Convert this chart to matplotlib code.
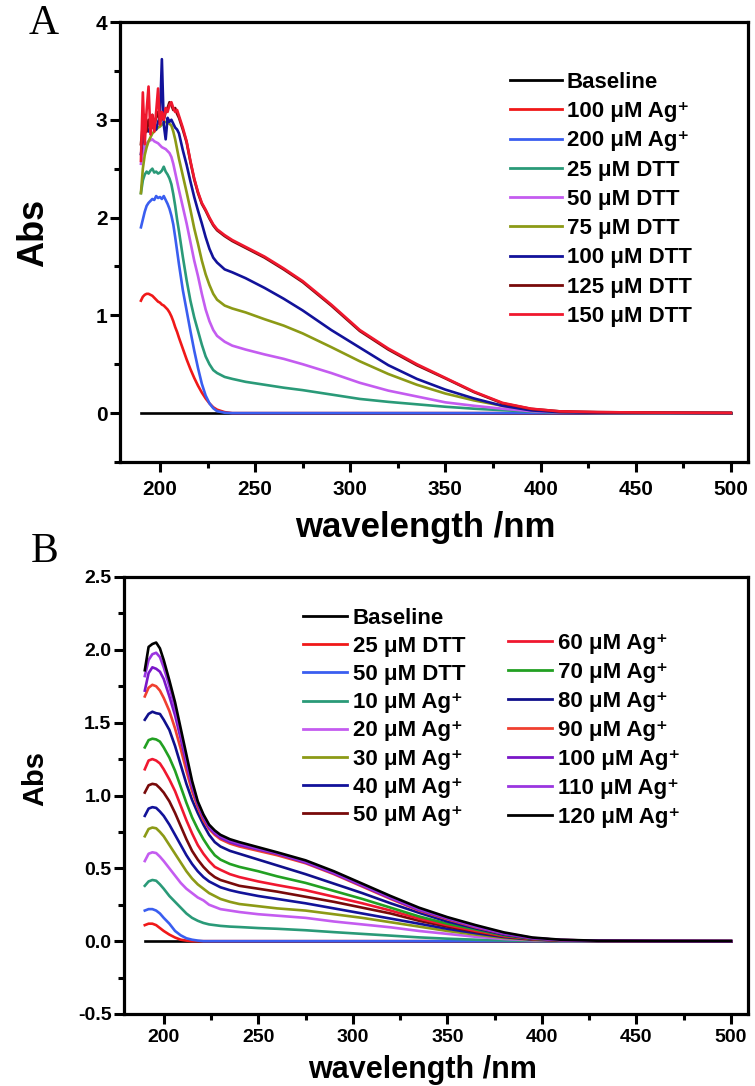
import matplotlib
matplotlib.use("Agg")
import matplotlib.pyplot as plt
from matplotlib.ticker import MultipleLocator

plt.rcParams['font.family'] = ['Liberation Sans', 'DejaVu Sans']
plt.rcParams['font.weight'] = 'bold'

# ---------------- panel A data ----------------
wlA = [190, 191, 192, 193, 194, 195, 196, 197, 198, 199, 200, 201, 202, 203, 204, 205, 206, 207, 208, 209, 210,
       212, 214, 216, 218, 220, 222, 224, 226, 228, 230, 234, 238, 245, 255, 265, 275, 290, 305, 320, 335,
       350, 365, 380, 395, 410, 430, 460, 500]

a_baseline = [0.0] * len(wlA)
a_ag100 = [1.15, 1.19, 1.21, 1.22, 1.22, 1.21, 1.20, 1.18, 1.16, 1.14, 1.13, 1.11, 1.10, 1.08, 1.06, 1.03, 0.99, 0.94, 0.88, 0.83, 0.77,
           0.66, 0.55, 0.45, 0.36, 0.28, 0.21, 0.15, 0.10, 0.06, 0.035, 0.01, 0.0, 0.0, 0.0, 0.0, 0.0, 0.0, 0.0, 0.0, 0.0,
           0.0, 0.0, 0.0, 0.0, 0.0, 0.0, 0.0, 0.0]
a_ag200 = [1.90, 1.98, 2.06, 2.12, 2.15, 2.17, 2.19, 2.18, 2.22, 2.20, 2.21, 2.19, 2.22, 2.18, 2.14, 2.09, 2.02, 1.93, 1.80, 1.66, 1.52,
           1.26, 1.05, 0.84, 0.64, 0.46, 0.30, 0.18, 0.10, 0.05, 0.02, 0.004, 0.0, 0.0, 0.0, 0.0, 0.0, 0.0, 0.0, 0.0, 0.0,
           0.0, 0.0, 0.0, 0.0, 0.0, 0.0, 0.0, 0.0]
a_dtt25 = [2.25, 2.38, 2.44, 2.47, 2.45, 2.48, 2.50, 2.46, 2.47, 2.45, 2.46, 2.48, 2.52, 2.47, 2.44, 2.40, 2.34, 2.24, 2.12, 1.98, 1.86,
           1.60, 1.36, 1.15, 0.98, 0.84, 0.70, 0.58, 0.50, 0.44, 0.41, 0.37, 0.35, 0.32, 0.29, 0.26, 0.235, 0.19, 0.145, 0.115, 0.09,
           0.065, 0.045, 0.03, 0.015, 0.006, 0.002, 0.0, 0.0]
a_dtt50 = [2.55, 2.66, 2.72, 2.76, 2.78, 2.79, 2.80, 2.78, 2.77, 2.76, 2.74, 2.72, 2.71, 2.70, 2.68, 2.66, 2.62, 2.55, 2.46, 2.37, 2.28,
           2.11, 1.94, 1.75, 1.56, 1.40, 1.22, 1.06, 0.94, 0.85, 0.79, 0.73, 0.69, 0.65, 0.60, 0.555, 0.50, 0.41, 0.31, 0.23, 0.17,
           0.11, 0.075, 0.045, 0.02, 0.008, 0.003, 0.0, 0.0]
a_dtt75 = [2.25, 2.50, 2.64, 2.72, 2.78, 2.82, 2.86, 2.88, 2.90, 2.92, 2.93, 2.95, 2.97, 2.98, 2.97, 2.96, 2.94, 2.88, 2.80, 2.70, 2.60,
           2.43, 2.26, 2.08, 1.89, 1.73, 1.56, 1.42, 1.31, 1.22, 1.16, 1.10, 1.07, 1.03, 0.96, 0.895, 0.815, 0.675, 0.53, 0.40, 0.29,
           0.20, 0.13, 0.075, 0.035, 0.012, 0.004, 0.001, 0.0]
a_dtt100 = [2.65, 2.78, 2.86, 2.90, 2.88, 2.94, 2.92, 2.96, 2.90, 2.98, 3.02, 3.62, 2.95, 2.80, 3.02, 2.98, 3.00, 2.96, 2.92, 2.90, 2.86,
            2.69, 2.54, 2.37, 2.21, 2.07, 1.94, 1.80, 1.68, 1.59, 1.54, 1.47, 1.44, 1.38, 1.28, 1.17, 1.05, 0.85, 0.67, 0.49, 0.35,
            0.24, 0.15, 0.075, 0.028, 0.01, 0.004, 0.002, 0.0]
a_dtt125 = [2.75, 2.95, 3.05, 2.88, 3.00, 2.92, 3.05, 2.95, 3.02, 3.08, 2.98, 3.05, 3.00, 3.08, 3.12, 3.18, 3.15, 3.10, 3.12, 3.06, 3.02,
            2.90, 2.77, 2.57, 2.39, 2.25, 2.14, 2.07, 1.99, 1.92, 1.87, 1.81, 1.76, 1.69, 1.59, 1.47, 1.34, 1.10, 0.84, 0.65, 0.49,
            0.355, 0.215, 0.10, 0.043, 0.018, 0.01, 0.005, 0.002]
a_dtt150 = [2.58, 3.28, 2.75, 3.10, 3.34, 2.85, 3.05, 2.88, 3.08, 3.32, 2.95, 3.08, 3.00, 3.12, 3.08, 3.15, 3.18, 3.12, 3.08, 3.10, 3.04,
            2.92, 2.78, 2.58, 2.40, 2.26, 2.15, 2.08, 2.00, 1.93, 1.88, 1.82, 1.77, 1.70, 1.60, 1.48, 1.35, 1.11, 0.85, 0.66, 0.50,
            0.36, 0.22, 0.105, 0.045, 0.018, 0.01, 0.005, 0.002]

seriesA = [a_baseline, a_ag100, a_ag200, a_dtt25, a_dtt50, a_dtt75, a_dtt100, a_dtt125, a_dtt150]
labelsA = ['Baseline', '100 μM Ag⁺', '200 μM Ag⁺', '25 μM DTT', '50 μM DTT', '75 μM DTT',
           '100 μM DTT', '125 μM DTT', '150 μM DTT']
colorsA = ['#000000', '#f01818', '#3a5ef0', '#2a9a78', '#c45cf0', '#8c9a16', '#12129a', '#780a0a', '#f0182e']

# ---------------- panel B data ----------------
wlB = [190, 192, 194, 196, 198, 200, 203, 206, 209, 212, 215, 218, 221, 224, 227, 230, 235, 240, 250, 260, 275,
       290, 305, 320, 335, 350, 365, 380, 395, 410, 430, 460, 500]

b_baseline = [0.0] * len(wlB)
b_dtt25 = [0.11, 0.12, 0.12, 0.11, 0.09, 0.07, 0.045, 0.025, 0.01, 0.004, 0.0, 0.0, 0.0, 0.0, 0.0, 0.0, 0.0, 0.0, 0.0, 0.0, 0.0,
           0.0, 0.0, 0.0, 0.0, 0.0, 0.0, 0.0, 0.0, 0.0, 0.0, 0.0, 0.0]
b_dtt50 = [0.21, 0.22, 0.22, 0.21, 0.19, 0.16, 0.12, 0.07, 0.04, 0.02, 0.01, 0.004, 0.0, 0.0, 0.0, 0.0, 0.0, 0.0, 0.0, 0.0, 0.0,
           0.0, 0.0, 0.0, 0.0, 0.0, 0.0, 0.0, 0.0, 0.0, 0.0, 0.0, 0.0]
b_ag10 = [0.38, 0.41, 0.42, 0.415, 0.39, 0.36, 0.31, 0.27, 0.23, 0.19, 0.16, 0.14, 0.125, 0.115, 0.11, 0.105, 0.10, 0.097, 0.09, 0.085, 0.075,
          0.062, 0.05, 0.038, 0.026, 0.017, 0.01, 0.005, 0.002, 0.0, 0.0, 0.0, 0.0]
b_ag20 = [0.55, 0.60, 0.61, 0.605, 0.58, 0.55, 0.50, 0.45, 0.40, 0.36, 0.33, 0.30, 0.28, 0.25, 0.235, 0.22, 0.21, 0.20, 0.185, 0.175, 0.16,
          0.135, 0.115, 0.095, 0.07, 0.05, 0.03, 0.015, 0.006, 0.002, 0.0, 0.0, 0.0]
b_ag30 = [0.72, 0.77, 0.78, 0.775, 0.75, 0.72, 0.66, 0.60, 0.54, 0.48, 0.43, 0.39, 0.36, 0.33, 0.31, 0.29, 0.27, 0.255, 0.24, 0.225, 0.21,
          0.185, 0.16, 0.13, 0.10, 0.07, 0.045, 0.022, 0.009, 0.003, 0.001, 0.0, 0.0]
b_ag40 = [0.86, 0.91, 0.92, 0.915, 0.89, 0.86, 0.80, 0.73, 0.66, 0.59, 0.53, 0.48, 0.44, 0.41, 0.39, 0.37, 0.35, 0.335, 0.31, 0.29, 0.26,
          0.225, 0.19, 0.155, 0.12, 0.085, 0.055, 0.028, 0.011, 0.004, 0.001, 0.0, 0.0]
b_ag50 = [1.02, 1.07, 1.08, 1.075, 1.05, 1.02, 0.96, 0.88, 0.79, 0.70, 0.62, 0.56, 0.51, 0.47, 0.44, 0.42, 0.40, 0.38, 0.36, 0.34, 0.305,
          0.27, 0.23, 0.19, 0.14, 0.10, 0.065, 0.033, 0.013, 0.005, 0.002, 0.0, 0.0]
b_ag60 = [1.18, 1.24, 1.25, 1.24, 1.22, 1.18, 1.11, 1.03, 0.93, 0.83, 0.74, 0.66, 0.60, 0.55, 0.51, 0.49, 0.46, 0.44, 0.41, 0.385, 0.35,
          0.305, 0.26, 0.21, 0.155, 0.11, 0.07, 0.035, 0.014, 0.005, 0.002, 0.0, 0.0]
b_ag70 = [1.33, 1.38, 1.39, 1.385, 1.37, 1.33, 1.26, 1.17, 1.06, 0.95, 0.85, 0.77, 0.70, 0.64, 0.59, 0.56, 0.53, 0.51, 0.48, 0.445, 0.40,
          0.345, 0.29, 0.23, 0.17, 0.12, 0.08, 0.04, 0.016, 0.006, 0.002, 0.0, 0.0]
b_ag80 = [1.52, 1.56, 1.575, 1.565, 1.56, 1.52, 1.45, 1.34, 1.21, 1.08, 0.97, 0.88, 0.80, 0.73, 0.68, 0.65, 0.62, 0.60, 0.56, 0.52, 0.46,
          0.395, 0.33, 0.26, 0.195, 0.135, 0.088, 0.045, 0.018, 0.007, 0.002, 0.001, 0.0]
b_ag90 = [1.68, 1.74, 1.76, 1.75, 1.72, 1.67, 1.58, 1.46, 1.32, 1.17, 1.03, 0.92, 0.83, 0.77, 0.73, 0.70, 0.67, 0.65, 0.62, 0.59, 0.535,
          0.46, 0.375, 0.29, 0.21, 0.15, 0.095, 0.05, 0.02, 0.008, 0.003, 0.001, 0.0]
b_ag100 = [1.72, 1.84, 1.88, 1.87, 1.85, 1.80, 1.68, 1.55, 1.39, 1.22, 1.06, 0.94, 0.85, 0.78, 0.74, 0.71, 0.68, 0.66, 0.63, 0.60, 0.54,
           0.465, 0.38, 0.295, 0.215, 0.155, 0.10, 0.05, 0.02, 0.008, 0.003, 0.001, 0.0]
b_ag110 = [1.82, 1.93, 1.97, 1.98, 1.95, 1.88, 1.75, 1.60, 1.43, 1.25, 1.08, 0.95, 0.86, 0.79, 0.75, 0.72, 0.69, 0.67, 0.635, 0.605, 0.545,
           0.47, 0.385, 0.30, 0.22, 0.16, 0.10, 0.055, 0.022, 0.008, 0.003, 0.001, 0.0]
b_ag120 = [1.86, 2.02, 2.04, 2.05, 2.01, 1.93, 1.79, 1.64, 1.46, 1.28, 1.10, 0.96, 0.87, 0.80, 0.76, 0.73, 0.70, 0.68, 0.645, 0.61, 0.555,
           0.48, 0.395, 0.31, 0.23, 0.165, 0.11, 0.06, 0.025, 0.01, 0.003, 0.001, 0.0]

seriesB = [b_baseline, b_dtt25, b_dtt50, b_ag10, b_ag20, b_ag30, b_ag40, b_ag50,
           b_ag60, b_ag70, b_ag80, b_ag90, b_ag100, b_ag110, b_ag120]
labelsB = ['Baseline', '25 μM DTT', '50 μM DTT', '10 μM Ag⁺', '20 μM Ag⁺', '30 μM Ag⁺', '40 μM Ag⁺', '50 μM Ag⁺',
           '60 μM Ag⁺', '70 μM Ag⁺', '80 μM Ag⁺', '90 μM Ag⁺', '100 μM Ag⁺', '110 μM Ag⁺', '120 μM Ag⁺']
colorsB = ['#000000', '#f01818', '#3a5ef0', '#2a9a78', '#c45cf0', '#8c9a16', '#12129a', '#780a0a',
           '#f01830', '#22a022', '#10108c', '#f04030', '#7a16c8', '#9a36e0', '#000000']

W, H = 755, 1086
fig = plt.figure(figsize=(W / 100, H / 100), dpi=100)
legprop = {'family': ['Liberation Sans', 'DejaVu Sans'], 'weight': 'bold', 'size': 16}


def px_axes(l, t, r, b):
    # rectangle given in pixel coordinates of the reference
    return fig.add_axes([l / W, 1 - b / H, (r - l) / W, (b - t) / H])


def style(ax, tsize, xpad):
    for s in ax.spines.values():
        s.set_linewidth(2.3)
    ax.tick_params(which='both', direction='out', width=2.2, top=False, right=False, labelsize=tsize)
    ax.tick_params(which='major', length=7)
    ax.tick_params(which='minor', length=4)
    ax.tick_params(axis='x', which='major', pad=xpad)
    ax.tick_params(axis='y', which='major', pad=2)


def fix_legend(leg):
    for ln in leg.get_lines():
        ln.set_linewidth(2.0)


# ---------------- panel A ----------------
axA = px_axes(120, 22, 748, 462)
for ys, lab, c in zip(seriesA, labelsA, colorsA):
    axA.plot(wlA, ys, color=c, lw=1.9, label=lab)
axA.set_xlim(179, 509)
axA.set_ylim(-0.5, 4)
axA.xaxis.set_major_locator(MultipleLocator(50))
axA.xaxis.set_minor_locator(MultipleLocator(25))
axA.yaxis.set_minor_locator(MultipleLocator(0.5))
axA.set_yticks([0, 1, 2, 3, 4])
style(axA, 15, 6)
legA = axA.legend(loc='upper left', bbox_to_anchor=(510 / W, 1 - 72 / H), bbox_transform=fig.transFigure,
                  frameon=False, prop=legprop, handlelength=2.34, handletextpad=0.22, labelspacing=0.37,
                  borderpad=0, borderaxespad=0)
fix_legend(legA)
fig.text(425 / W, 1 - 527 / H, 'wavelength /nm', ha='center', va='center', fontsize=25, fontweight='bold')
fig.text(34 / W, 1 - 233 / H, 'Abs', ha='center', va='center', rotation=90, fontsize=26, fontweight='bold')
fig.text(44 / W, 1 - 24 / H, 'A', ha='center', va='center', fontsize=30, fontweight='normal',
         family='Liberation Serif')

# ---------------- panel B ----------------
axB = px_axes(124, 577, 748, 1014)
for ys, lab, c in zip(seriesB, labelsB, colorsB):
    axB.plot(wlB, ys, color=c, lw=1.9, label=lab)
axB.set_xlim(179, 509)
axB.set_ylim(-0.5, 2.5)
axB.xaxis.set_major_locator(MultipleLocator(50))
axB.xaxis.set_minor_locator(MultipleLocator(25))
axB.yaxis.set_major_locator(MultipleLocator(0.5))
axB.yaxis.set_minor_locator(MultipleLocator(0.25))
axB.yaxis.set_major_formatter(plt.FormatStrFormatter('%.1f'))
style(axB, 14, 4)
hB, lB = axB.get_legend_handles_labels()
legB1 = axB.legend(hB[:8], lB[:8], loc='upper left', bbox_to_anchor=(303 / W, 1 - 608 / H),
                   bbox_transform=fig.transFigure, frameon=False, prop=legprop, handlelength=1.98,
                   handletextpad=0.26, labelspacing=0.32, borderpad=0, borderaxespad=0)
fix_legend(legB1)
axB.add_artist(legB1)
legB2 = axB.legend(hB[8:], lB[8:], loc='upper left', bbox_to_anchor=(508 / W, 1 - 633 / H),
                   bbox_transform=fig.transFigure, frameon=False, prop=legprop, handlelength=1.98,
                   handletextpad=0.26, labelspacing=0.36, borderpad=0, borderaxespad=0)
fix_legend(legB2)
fig.text(423 / W, 1 - 1078 / H, 'wavelength /nm', ha='center', va='baseline', fontsize=22, fontweight='bold')
fig.text(35 / W, 1 - 778 / H, 'Abs', ha='center', va='center', rotation=90, fontsize=21, fontweight='bold')
fig.text(45 / W, 1 - 552 / H, 'B', ha='center', va='center', fontsize=30, fontweight='normal',
         family='Liberation Serif')

fig.savefig('out.png', dpi=100)
